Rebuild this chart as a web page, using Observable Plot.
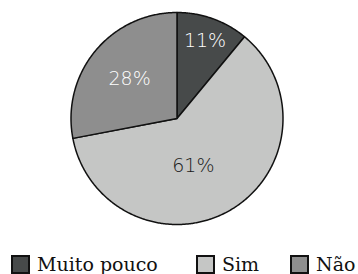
<!DOCTYPE html>
<html>
<head>
<meta charset="utf-8">
<script src="https://cdn.jsdelivr.net/npm/d3@7"></script>
<script src="https://cdn.jsdelivr.net/npm/@observablehq/plot@0.6"></script>
<style>
  html, body { margin: 0; padding: 0; background: #fff; }
  #chart { width: 358px; height: 274px; position: relative; overflow: hidden; }
  .legend { position: absolute; left: 0; top: 255px; width: 358px; height: 19px;
            font-family: "DejaVu Serif", serif; font-size: 19px; color: #111; line-height: 19px; }
  .item { position: absolute; top: 0; display: flex; align-items: center; white-space: nowrap; }
  .sw { width: 15px; height: 15px; border: 2px solid #111; margin-right: 7px; }
</style>
</head>
<body>
<div id="chart"></div>
<script>
const categories = ["Muito pouco", "Sim", "Não"];
const values = [11, 61, 28];
const labels = ["11%", "61%", "28%"];
const colors = ["#474a4a", "#c5c6c5", "#8e8e8e"];
const darkSlices = ["Muito pouco", "Não"];

const arcs = d3.pie().sort(null)(values);
const total = d3.sum(values);

// polygon outline of each slice, from the pie angles
const slicePts = [];
arcs.forEach((a, i) => {
  const n = Math.max(2, Math.ceil((a.endAngle - a.startAngle) / 0.01));
  slicePts.push({cat: categories[i], x: 0, y: 0});
  for (let k = 0; k <= n; k++) {
    const t = a.startAngle + (a.endAngle - a.startAngle) * k / n;
    slicePts.push({cat: categories[i], x: Math.sin(t), y: Math.cos(t)});
  }
  slicePts.push({cat: categories[i], x: 0, y: 0});
});

const labelData = arcs.map((a, i) => {
  const share = values[i] / total;
  const r = share < 0.15 ? 0.78 : share < 0.5 ? 0.58 : 0.47;
  const m = (a.startAngle + a.endAngle) / 2 + (share > 0.5 ? 0.2 : 0);
  return {cat: categories[i], text: labels[i], x: r * Math.sin(m), y: r * Math.cos(m)};
});

const chart = Plot.plot({
  width: 358,
  height: 250,
  margin: 0,
  style: {background: "#fff"},
  x: {domain: [-1, 1], range: [70.5, 282.5], axis: null},
  y: {domain: [-1, 1], range: [224, 12], axis: null},
  color: {domain: categories, range: colors},
  marks: [
    Plot.line(slicePts, {x: "x", y: "y", z: "cat", fill: "cat", stroke: "#111", strokeWidth: 1.5, strokeLinejoin: "round"}),
    Plot.text(labelData, {filter: d => darkSlices.includes(d.cat), x: "x", y: "y", text: "text",
      fill: "#fff", fontSize: 19, fontWeight: 300, fontFamily: "DejaVu Sans"}),
    Plot.text(labelData, {filter: d => !darkSlices.includes(d.cat), x: "x", y: "y", text: "text",
      fill: "#1a1a1a", fontSize: 19, fontWeight: 300, fontFamily: "DejaVu Sans"})
  ]
});
const root = document.getElementById("chart");
root.appendChild(chart);

const legend = document.createElement("div");
legend.className = "legend";
const lefts = [11, 196, 290];
categories.forEach((c, i) => {
  const it = document.createElement("div");
  it.className = "item";
  it.style.left = lefts[i] + "px";
  const sw = document.createElement("span");
  sw.className = "sw";
  sw.style.background = colors[i];
  const tx = document.createElement("span");
  tx.textContent = c;
  it.appendChild(sw); it.appendChild(tx);
  legend.appendChild(it);
});
root.appendChild(legend);
</script>
</body>
</html>
